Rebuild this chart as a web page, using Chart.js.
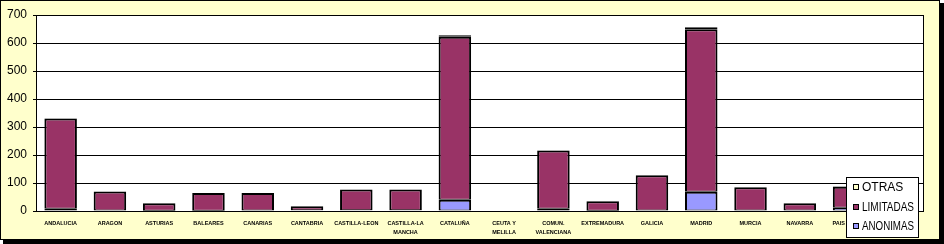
<!DOCTYPE html>
<html lang="es">
<head>
    <meta charset="UTF-8">
    <title>Sociedades por comunidad autónoma</title>
    <script src="https://cdn.jsdelivr.net/npm/chart.js"></script>
    <style>
        html, body {
            margin: 0;
            padding: 0;
            overflow: hidden;
            background: #ffffff;
        }
        canvas { display: block; }
    </style>
</head>
<body>
    <canvas id="barChart" width="944" height="244"></canvas>

    <script>
        // Werte
        const comunidades = [
            'ANDALUCIA', 'ARAGON', 'ASTURIAS', 'BALEARES', 'CANARIAS', 'CANTABRIA',
            'CASTILLA-LEON', ['CASTILLA-LA', 'MANCHA'], 'CATALUÑA', ['CEUTA Y', 'MELILLA'],
            ['COMUN.', 'VALENCIANA'], 'EXTREMADURA', 'GALICIA', 'MADRID', 'MURCIA',
            'NAVARRA', 'PAIS VASCO', 'LA RIOJA'
        ];
        const anonimas  = [8, 2, 1, 1, 2, 3, 3, 3, 40, 0, 8, 1, 2, 69, 2, 2, 12, 1];
        const limitadas = [322, 68, 27, 63, 62, 14, 74, 74, 582, 0, 208, 34, 126, 580, 83, 26, 75, 13];
        const otras     = [1, 0, 0, 0, 0, 0, 0, 0, 6, 0, 1, 0, 0, 7, 0, 0, 1, 0];
        const yMax = 700;
        const yStep = 100;

        const BG_YELLOW = '#ffffcc';

        // Rahmen, Schatten und weisser Plotbereich
        const framePlugin = {
            id: 'frame',
            beforeDraw(chart) {
                const ctx = chart.ctx;
                const a = chart.chartArea;
                ctx.save();
                ctx.fillStyle = '#ffffff';
                ctx.fillRect(0, 0, chart.width, chart.height);
                ctx.fillStyle = '#000000';
                ctx.fillRect(3, 3, chart.width - 3, chart.height - 3);
                ctx.fillStyle = BG_YELLOW;
                ctx.fillRect(0, 0, 940, 240);
                ctx.strokeStyle = '#000000';
                ctx.lineWidth = 1;
                ctx.strokeRect(0.5, 0.5, 939, 239);
                ctx.fillStyle = '#ffffff';
                ctx.fillRect(a.left, a.top, a.right - a.left, a.bottom - a.top);
                ctx.restore();
            },
            afterDatasetsDraw(chart) {
                const ctx = chart.ctx;
                const a = chart.chartArea;
                ctx.save();
                ctx.strokeStyle = '#000000';
                ctx.lineWidth = 1;
                ctx.strokeRect(Math.round(a.left) + 0.5, Math.round(a.top) + 0.5,
                    Math.round(a.right - a.left), Math.round(a.bottom - a.top));
                ctx.restore();
            }
        };

        // Legende im Excel-Stil (Kasten über dem Diagramm)
        const legendPlugin = {
            id: 'boxLegend',
            afterDraw(chart) {
                const ctx = chart.ctx;
                const sets = chart.data.datasets.slice().reverse();
                const x = 846, y = 177, w = 72, h = 60;
                ctx.save();
                ctx.fillStyle = '#ffffff';
                ctx.fillRect(x, y, w, h);
                ctx.strokeStyle = '#000000';
                ctx.lineWidth = 1;
                ctx.strokeRect(x + 0.5, y + 0.5, w, h);
                ctx.font = '12px "Liberation Sans", Arial, sans-serif';
                ctx.textBaseline = 'middle';
                sets.forEach((ds, i) => {
                    const cy = Math.round(y + 10 + i * 19.5);
                    ctx.fillStyle = ds.backgroundColor;
                    ctx.fillRect(853, cy - 3, 5, 5);
                    ctx.strokeStyle = '#000000';
                    ctx.strokeRect(853.5, cy - 2.5, 5, 5);
                    ctx.fillStyle = '#000000';
                    // schmaler gesetzt wie im Original
                    const tw = ctx.measureText(ds.label).width;
                    ctx.fillText(ds.label, 862, cy + 1, Math.min(tw, 52));
                });
                ctx.restore();
            }
        };

        const barDefaults = {
            borderColor: '#000000',
            borderWidth: { left: 2, right: 2, top: 2, bottom: 1 },
            borderSkipped: false,
            barPercentage: 0.66,
            categoryPercentage: 1.0
        };

        const config = {
            type: 'bar',
            data: {
                labels: comunidades,
                datasets: [
                    { label: 'ANONIMAS', data: anonimas, backgroundColor: '#9999ff', ...barDefaults },
                    { label: 'LIMITADAS', data: limitadas, backgroundColor: '#993366', ...barDefaults },
                    { label: 'OTRAS', data: otras, backgroundColor: BG_YELLOW, ...barDefaults }
                ]
            },
            options: {
                responsive: false,
                animation: false,
                layout: { padding: { left: 0, top: 15, right: 21, bottom: 0 } },
                plugins: {
                    legend: { display: false },
                    tooltip: { enabled: false }
                },
                scales: {
                    x: {
                        stacked: true,
                        grid: { display: false },
                        border: { display: false },
                        ticks: {
                            autoSkip: false,
                            maxRotation: 0,
                            minRotation: 0,
                            padding: 0,
                            color: '#000000',
                            font: { family: '"Liberation Sans", Arial, sans-serif', size: 5.5, weight: 'bold', lineHeight: 1.64 }
                        },
                        afterFit(scale) { scale.height = 33; }
                    },
                    y: {
                        stacked: true,
                        min: 0,
                        max: yMax,
                        grid: {
                            color: '#000000',
                            lineWidth: 1,
                            drawTicks: true,
                            tickLength: 3,
                            tickColor: '#000000'
                        },
                        border: { display: true, color: '#000000' },
                        ticks: {
                            stepSize: yStep,
                            padding: 6,
                            color: '#000000',
                            font: { family: '"Liberation Sans", Arial, sans-serif', size: 12 }
                        },
                        afterFit(scale) { scale.width = 36; }
                    }
                }
            },
            plugins: [framePlugin, legendPlugin]
        };

        const ctx = document.getElementById('barChart').getContext('2d');
        const barChart = new Chart(ctx, config);
    </script>
</body>
</html>
